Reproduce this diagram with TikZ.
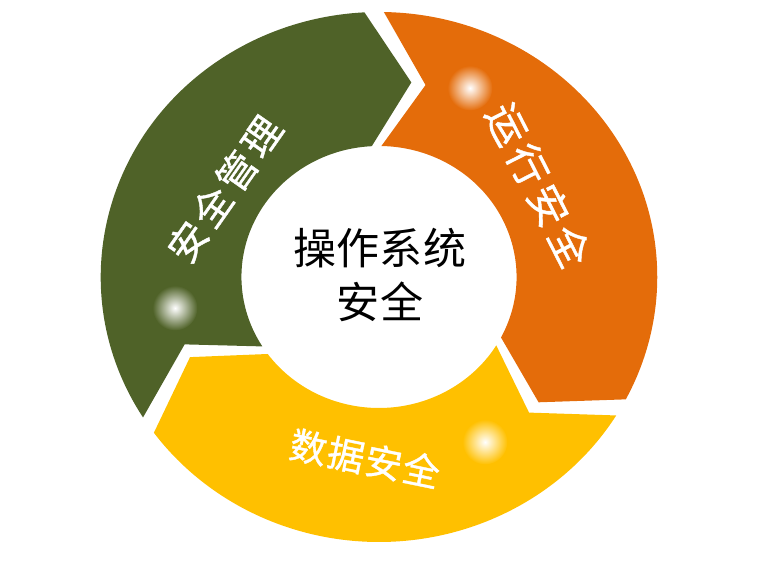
\documentclass[tikz,border=0pt]{standalone}
\usepackage{fontspec}
\newfontfamily\cjk{Noto Sans CJK SC}
\newfontfamily\cjklabel[FakeBold=1]{Noto Sans CJK SC}
\definecolor{mgmtgreen}{HTML}{4F6228}
\definecolor{opsorange}{HTML}{E46C0A}
\definecolor{datayellow}{HTML}{FFC000}
\begin{document}
\begin{tikzpicture}[
    ringtext/.style 2 args={text=white,inner sep=0pt,font=\cjklabel\fontsize{#1}{#1}\selectfont\addfontfeature{LetterSpace=#2}},
    glow/.style={inner color=white,outer color=#1}]
            \useasboundingbox (-7.58,-5.78) rectangle (7.78,5.54);
            \begin{scope}[xscale=1.05]
            \fill[mgmtgreen] (212:5.3) arc[start angle=212,end angle=93,radius=5.3] -- (81:3.94)
                -- (93:2.62) arc[start angle=93,end angle=212,radius=2.62] -- (200:3.94) -- cycle;
            \fill[opsorange] (89:5.3) arc[start angle=89,end angle=-27.5,radius=5.3] -- (-39.5:3.94)
                -- (-27.5:2.62) arc[start angle=-27.5,end angle=89,radius=2.62] -- (77:3.94) -- cycle;
            \fill[datayellow] (-31.5:5.3) arc[start angle=-31.5,end angle=-144,radius=5.3] -- (-156:3.94)
                -- (-144:2.62) arc[start angle=-144,end angle=-31.5,radius=2.62] -- (-43.5:3.94) -- cycle;
            \end{scope}
            \shade[glow=opsorange] (1.82,3.78) circle (0.45);
            \shade[glow=mgmtgreen] (-4.08,-0.62) circle (0.45);
            \shade[glow=datayellow] (2.12,-3.3) circle (0.45);
            \node[ringtext={22pt}{11},rotate=55] (mgmt) at (-3.09,1.76) {安全管理};
            \node[ringtext={23pt}{13},rotate=-63] (ops) at (3.19,1.84) {运行安全};
            \node[ringtext={21pt}{4},rotate=-11.6] (data) at (-0.28,-3.63) {数据安全};
            \node[align=center,font=\cjk\fontsize{24.5pt}{30.7pt}\selectfont] (core) at (0.02,0.04) {操作系统\\安全};
    \end{tikzpicture}
\end{document}
